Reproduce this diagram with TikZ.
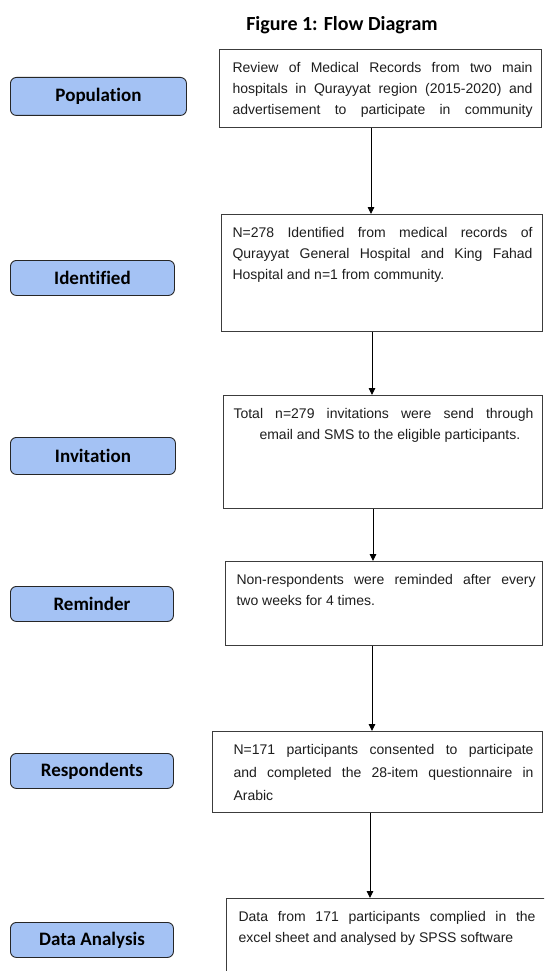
\documentclass[tikz,border=0pt]{standalone}
\usepackage{fontspec}
\setmainfont{Liberation Sans}
\newfontfamily\labelfont[Ligatures=NoCommon]{Carlito}
\usetikzlibrary{arrows.meta,calc}
\definecolor{lblue}{RGB}{164,194,244}
\definecolor{edgegray}{RGB}{60,60,60}
\definecolor{txtgray}{RGB}{30,30,30}
% #1 width, #2 height, #3 left pad, #4 right pad, #5 text, #6 line pitch
\newcommand\fbtext[6]{\begin{minipage}[c][#2pt][t]{#1pt}\fontsize{14}{#6}\selectfont\color{txtgray}\leftskip=#3pt\rightskip=#4pt\parindent=0pt\vspace*{13pt}#5\par\end{minipage}}
\tikzset{
  lab/.style={draw=black!85, line width=0.9pt, fill=lblue, rounded corners=6pt, anchor=north west,
    inner sep=0pt, font=\labelfont\bfseries\fontsize{19}{22}\selectfont},
  flowbox/.style={draw=edgegray, line width=1.1pt, anchor=north west, inner sep=0pt, fill=white},
  conn/.style={line width=0.9pt, draw=black, -{Triangle[length=7pt,width=6.5pt]}},
}
\begin{document}
\begin{tikzpicture}[x=1pt,y=-1pt]
\useasboundingbox (0,0) rectangle (544,971);
\clip (0,0) rectangle (544,971);
\fill[white] (0,0) rectangle (544,971);

\node[font=\labelfont\bfseries\fontsize{20}{24}\selectfont] (title) at (342,25) {Figure 1: Flow Diagram};

% left labels
\node[lab, minimum width=176pt, minimum height=38pt] (lpop) at (10,77) {Population};
\node[lab, minimum width=164pt, minimum height=35pt] (lid) at (10,260) {Identified};
\node[lab, minimum width=165pt, minimum height=37pt] (linv) at (10,437) {Invitation};
\node[lab, minimum width=163pt, minimum height=35pt] (lrem) at (10,586) {Reminder};
\node[lab, minimum width=163pt, minimum height=35pt] (lres) at (10,753) {Respondents};
\node[lab, minimum width=163pt, minimum height=35pt] (ldat) at (10,922) {Data Analysis};

% flow boxes
\node[flowbox] (b1) at (219,49) {\fbtext{322}{78}{13}{9}{\parfillskip=0pt Review of Medical Records from two main\linebreak hospitals in Qurayyat region (2015-2020) and\linebreak advertisement to participate in community}{21}};
\node[flowbox] (b2) at (221,214) {\fbtext{321}{117}{11}{10}{N=278 Identified from medical records of\linebreak Qurayyat General Hospital and King Fahad\linebreak Hospital and n=1 from community.}{21}};
\node[flowbox] (b3) at (223,395) {\fbtext{319}{113}{10}{9}{Total n=279 invitations were send through\linebreak \hspace*{26pt}email and SMS to the eligible participants.}{21}};
\node[flowbox] (b4) at (225,561) {\fbtext{317}{84}{11}{7}{Non-respondents were reminded after every\linebreak two weeks for 4 times.}{21}};
\node[flowbox] (b5) at (212,731) {\fbtext{330}{81}{21}{9}{N=171 participants consented to participate\linebreak and completed the 28-item questionnaire in\linebreak Arabic}{23}};
\node[flowbox] (b6) at (226,898) {\fbtext{330}{120}{12}{21}{Data from 171 participants complied in the\linebreak excel sheet and analysed by SPSS software}{21}};

% connectors
\coordinate (x1) at (371,0);
\coordinate (x2) at (372,0);
\coordinate (x3) at (373,0);
\coordinate (x4) at (372,0);
\coordinate (x5) at (370,0);
\draw[conn] (b1.south -| x1) -- (b2.north -| x1);
\draw[conn] (b2.south -| x2) -- (b3.north -| x2);
\draw[conn] (b3.south -| x3) -- (b4.north -| x3);
\draw[conn] (b4.south -| x4) -- (b5.north -| x4);
\draw[conn] (b5.south -| x5) -- (b6.north -| x5);
\end{tikzpicture}
\end{document}
